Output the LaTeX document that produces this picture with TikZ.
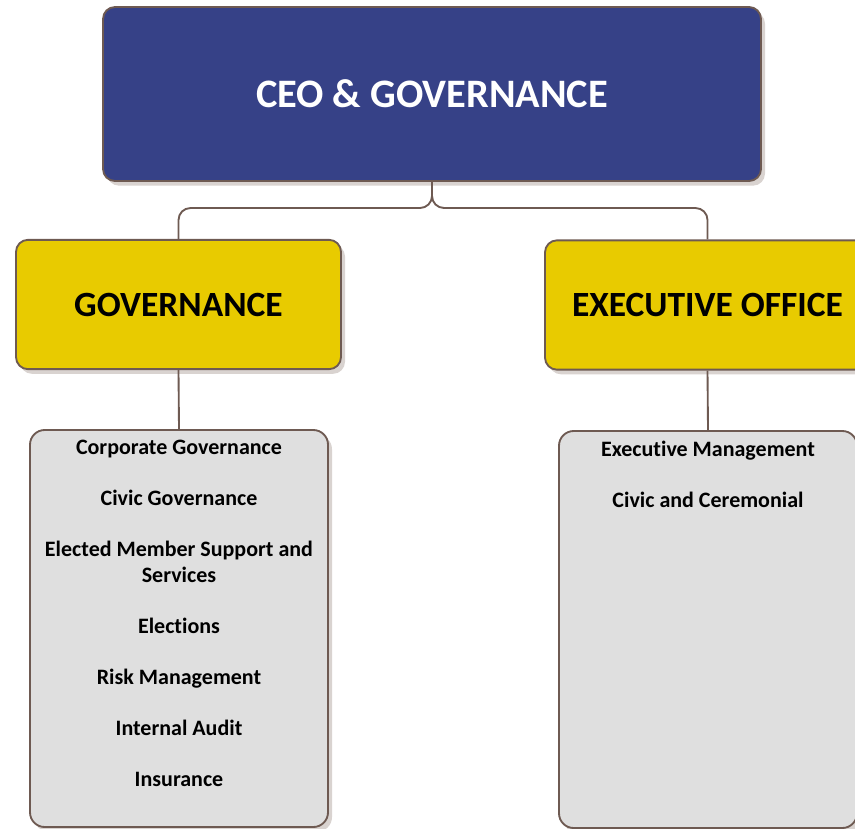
\documentclass[tikz,border=0pt]{standalone}
\usepackage{fontspec}
\setmainfont{Carlito}[Ligatures=NoCommon]
\usetikzlibrary{shadows}
\definecolor{ceoblue}{HTML}{364187}
\definecolor{unityellow}{HTML}{E8CB00}
\definecolor{listgrey}{HTML}{DFDFDF}
\definecolor{rimbrown}{HTML}{6E5A52}
\definecolor{shadegrey}{HTML}{D9D3D0}
\tikzset{
    every box/.style={
        draw=rimbrown,
        line width=1.4pt,
        rounded corners=9pt,
        drop shadow={shadow xshift=3pt, shadow yshift=-3.5pt, fill=shadegrey, opacity=1}},
    topbox/.style={
        every box,
        fill=ceoblue,
        text=white,
        font=\bfseries\fontsize{30.3}{35}\selectfont,
        minimum width=493.5pt,
        minimum height=130.5pt},
    unitbox/.style={
        every box,
        fill=unityellow,
        font=\bfseries\fontsize{26.6}{31}\selectfont,
        minimum width=243.75pt,
        minimum height=97pt},
    listbox/.style={
        every box,
        rounded corners=11pt,
        fill=listgrey,
        minimum width=223.5pt,
        minimum height=297.75pt},
    listtext/.style={
        anchor=north,
        inner sep=0pt,
        align=center,
        font=\bfseries\fontsize{16.5}{19.5}\selectfont},
    link/.style={
        draw=rimbrown,
        line width=1.4pt,
        rounded corners=9pt}}

\begin{document}
\begin{tikzpicture}[x=0.75pt, y=-0.75pt]
        \useasboundingbox (0,0) rectangle (855,828);

        \node[topbox] (ceo) at (432,94) {CEO \& GOVERNANCE};
        \node[unitbox] (gov) at (178.5,304.5) {GOVERNANCE};
        \node[unitbox] (exec) at (707.5,305) {EXECUTIVE OFFICE};

        \node[listbox] (govlist) at (179,628.5) {};
        \node[listbox] (execlist) at (708,629.5) {};

        \node[listtext] (govitems) at (179,440) {Corporate Governance\\[18.75pt]
            Civic Governance\\[18.75pt]
            Elected Member Support and\\ Services\\[18.75pt]
            Elections\\[18.75pt]
            Risk Management\\[18.75pt]
            Internal Audit\\[18.75pt]
            Insurance};
        \node[listtext] (execitems) at (708,441) {Executive Management\\[18.75pt]
            Civic and Ceremonial};

        \coordinate (fork) at (432,208);
        \draw[link] (ceo.south) -- (fork) -| (gov.north);
        \draw[link] (ceo.south) -- (fork) -| (exec.north);
        \draw[link] (gov.south) -- (govlist.north);
        \draw[link] (exec.south) -- (execlist.north);
    \end{tikzpicture}
\end{document}
